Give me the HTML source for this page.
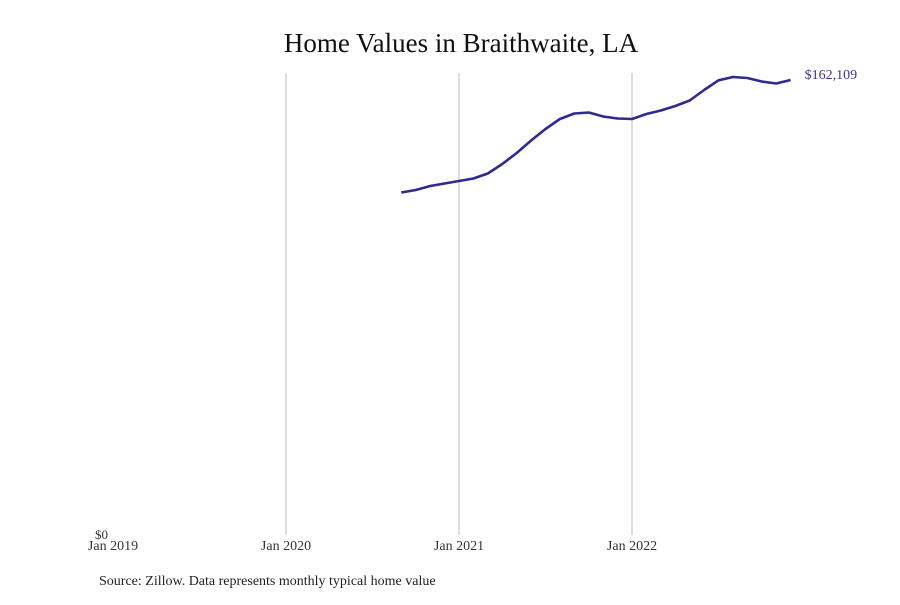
<!DOCTYPE html>
<html><head><meta charset="utf-8"><style>
body{margin:0;background:#fff;}
svg text{font-family:"Liberation Serif",serif;}
</style></head><body>
<svg id="chart" width="900" height="600" xmlns="http://www.w3.org/2000/svg">
<text x="461" y="52" text-anchor="middle" font-size="27" fill="#111">Home Values in Braithwaite, LA</text>
<g id="grid"></g>
<g id="xlabels"></g>
<text x="108" y="539" text-anchor="end" font-size="13" fill="#333">$0</text>
<path id="line" fill="none" stroke="#2e2a8f" stroke-width="2.6" stroke-linejoin="round"/>
<text id="endlabel" font-size="14" fill="#3a3594"></text>
<text x="99" y="585" font-size="14" fill="#222">Source: Zillow. Data represents monthly typical home value</text>
</svg>
<script>
const tickLabels=["Jan 2019","Jan 2020","Jan 2021","Jan 2022"];
const tickMonths=[0,12,24,36];
const startMonth=20;
const values=[122026,122917,124342,125232,126123,127014,128795,132180,136099,140552,144650,148212,150172,150528,149103,148391,148212,149994,151241,152844,154804,158545,162000,163178,162822,161575,160862,162109];
const yMax=162109;
const x=m=>113+m*(173/12);
const y=v=>535-v/yMax*455;
const NS="http://www.w3.org/2000/svg";
const grid=document.getElementById('grid'),xl=document.getElementById('xlabels');
tickMonths.forEach((m,i)=>{
 if(i>0){const l=document.createElementNS(NS,'line');
 
 
 l.setAttribute('x1',x(m));l.setAttribute('x2',x(m));l.setAttribute('y1',73);l.setAttribute('y2',535);
 l.setAttribute('stroke','#bbb');l.setAttribute('stroke-width','1');grid.appendChild(l);}
 const t=document.createElementNS(NS,'text');
 
 
 t.setAttribute('x',x(m));t.setAttribute('y',550);t.setAttribute('text-anchor','middle');
 t.setAttribute('font-size','14');t.setAttribute('fill','#333');t.textContent=tickLabels[i];xl.appendChild(t);
});
document.getElementById('line').setAttribute('d',values.map((v,i)=>(i?'L':'M')+x(startMonth+i).toFixed(1)+','+y(v).toFixed(1)).join(''));
const last=values[values.length-1],el=document.getElementById('endlabel');
el.setAttribute('x',x(startMonth+values.length-1)+14);el.setAttribute('y',y(last)-1);
el.textContent='$'+last.toLocaleString('en-US');
</script>
</body></html>
